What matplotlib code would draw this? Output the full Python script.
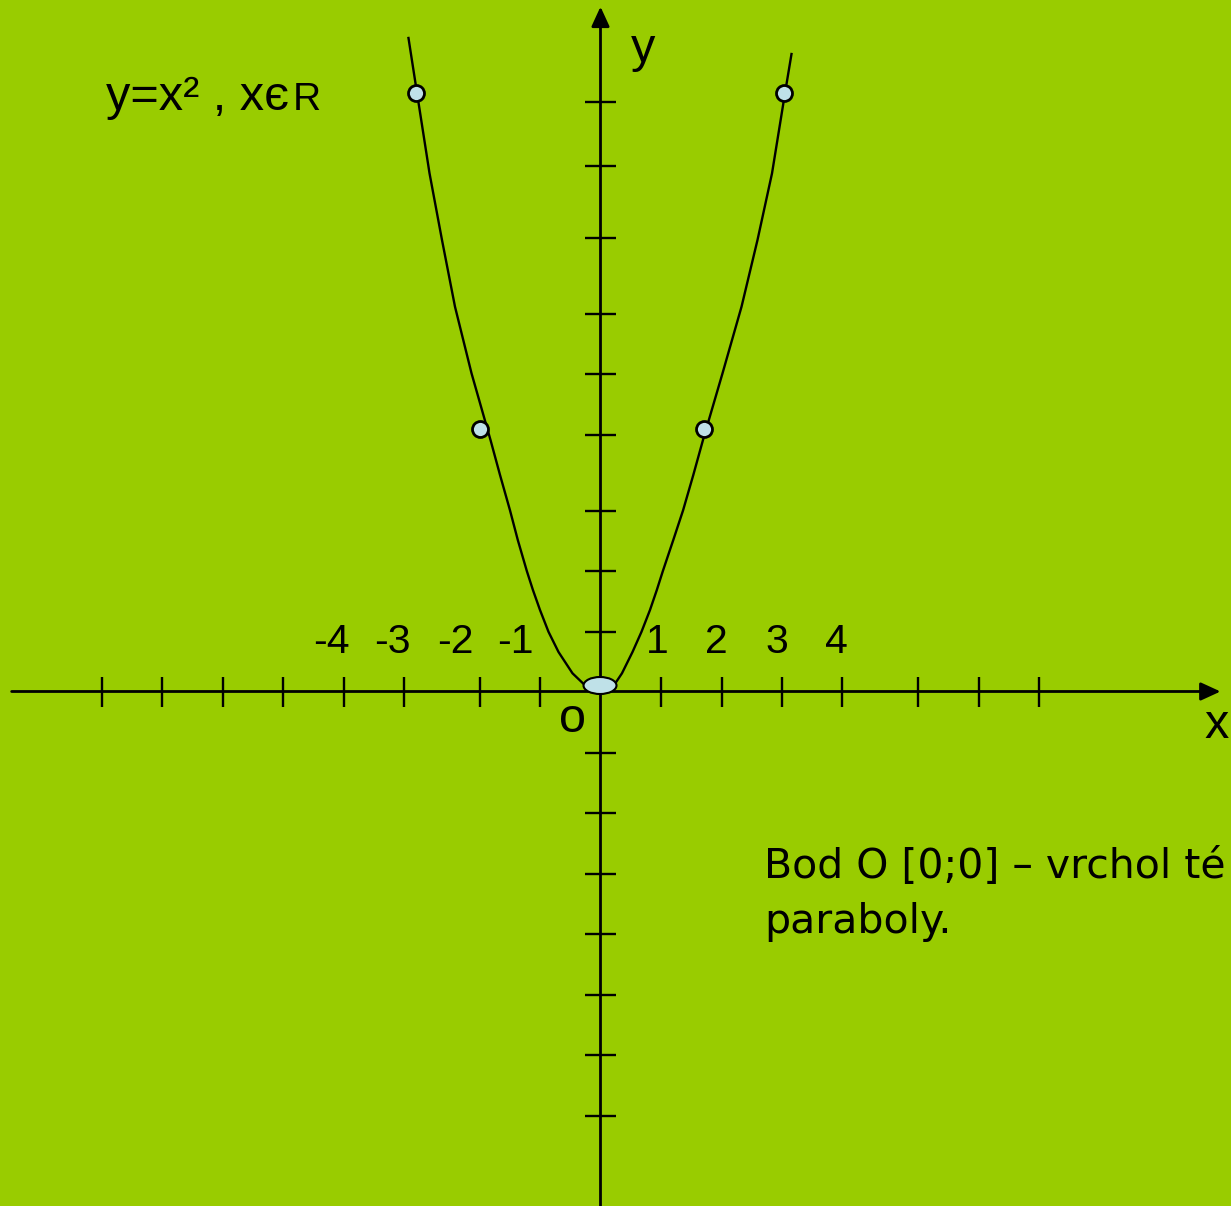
import matplotlib
matplotlib.use("Agg")
import matplotlib.pyplot as plt
from matplotlib.patches import Ellipse

plt.rcParams['font.family'] = ['Liberation Sans', 'DejaVu Sans']

# grid units (1 unit ~ one tick step)
x_ticks = [-8.245, -7.243, -6.245, -5.248, -4.245, -3.248, -1.992, -1.0,
           1.0, 2.008, 3.0, 3.997, 5.248, 6.256, 7.243]
y_ticks = [9.749, 8.691, 7.496, 6.240, 5.243, 4.240, 2.988, 1.992, 0.988,
           -1.012, -2.013, -3.012, -4.012, -5.012, -6.003, -7.012]
tick_labels = ["-4", "-3", "-2", "-1", "1", "2", "3", "4"]
label_x = [-4.455, -3.438, -2.405, -1.400, 0.942, 1.921, 2.917, 3.893]

# hand drawn parabola, traced along its length (left branch, then right)
curve_x = [-3.174, -3.033, -2.826, -2.620, -2.405, -2.132, -1.818, -1.661,
           -1.496, -1.367, -1.218, -1.117, -1.000, -0.860, -0.694, -0.463,
           -0.231, 0.0,
           0.207, 0.355, 0.529, 0.678, 0.818, 0.931, 1.031, 1.203, 1.365,
           1.534, 1.694, 2.017, 2.331, 2.595, 2.835, 3.050, 3.157]
curve_y = [10.802, 9.893, 8.565, 7.463, 6.360, 5.260, 4.157, 3.579,
           2.995, 2.504, 1.992, 1.678, 1.347, 0.988, 0.653, 0.301,
           0.079, 0.017,
           0.079, 0.301, 0.653, 0.988, 1.347, 1.678, 1.992, 2.504, 2.995,
           3.579, 4.157, 5.260, 6.360, 7.463, 8.565, 9.893, 10.537]

pts_x = [-3.050, -1.992, 1.716, 3.033]
pts_y = [9.888, 4.334, 4.334, 9.888]
vertex = (-0.008, 0.099)

bg = '#99cc00'
blue = '#bfe1e8'

fig = plt.figure(figsize=(12.31, 12.06), dpi=100, facecolor=bg)
ax = fig.add_axes([0, 0, 1, 1])
ax.set_facecolor(bg)
ax.set_xlim(-600.5 / 60.5, 630.5 / 60.5)
ax.set_ylim(-514.5 / 60.5, 691.5 / 60.5)
ax.axis('off')

# axes with arrows
arr = dict(arrowstyle='-|>,head_length=1.2,head_width=0.55', lw=2.0,
           color='black', mutation_scale=10, shrinkA=0, shrinkB=0)
ax.annotate('', xy=(10.248, 0), xytext=(-9.733, 0), arrowprops=arr)
ax.annotate('', xy=(0, 11.319), xytext=(0, -8.7), arrowprops=arr)

ax.vlines(x_ticks, -0.25, 0.245, color='black', lw=1.7)
ax.hlines(y_ticks, -0.26, 0.26, color='black', lw=1.7)

for lx, lab in zip(label_x, tick_labels):
    ax.text(lx, 0.641, lab, fontsize=29.5, ha='center', va='baseline')

ax.plot(curve_x, curve_y, color='black', lw=1.7, zorder=3, solid_joinstyle='round')
ax.plot(pts_x, pts_y, 'o', ms=11.5, mfc=blue, mec='black', mew=2.0, zorder=4)
ax.add_patch(Ellipse(vertex, 0.545, 0.281, fc=blue, ec='black', lw=1.5, zorder=4))

ax.text(0.702, 10.41, 'y', fontsize=35, ha='center', va='baseline')
ax.text(10.19, -0.77, 'x', fontsize=35, ha='center', va='baseline')
ax.text(-0.455, -0.67, 'o', fontsize=35, ha='center', va='baseline')

ax.text(-8.18, 9.61, 'y=x² , xє', fontsize=35, ha='left', va='baseline')
ax.text(-5.08, 9.61, 'R', fontsize=28, ha='left', va='baseline')

# the sentence runs off the right edge in the original slide
ax.text(2.702, -3.088, 'Bod O [0;0] – vrchol té', fontsize=29.5,
        family='DejaVu Sans', ha='left', va='baseline')
ax.text(2.702, -3.99, 'paraboly.', fontsize=29.5,
        family='DejaVu Sans', ha='left', va='baseline')

fig.savefig('out.png', dpi=100, facecolor=bg)
